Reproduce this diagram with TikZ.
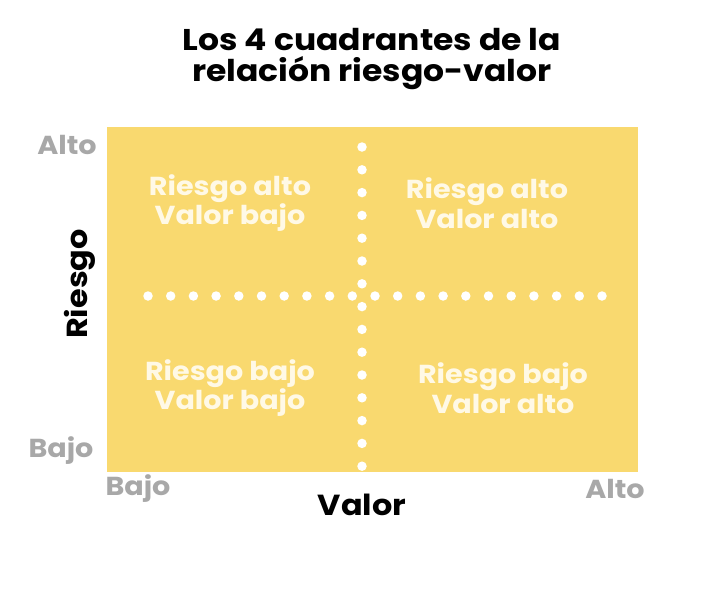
\documentclass[tikz,border=0pt]{standalone}
\usepackage{fontspec}
\setmainfont{Poppins}
\newfontfamily\widefont{Poppins}[FakeStretch=1.1]
\definecolor{quadyellow}{HTML}{F9D96F}
\definecolor{axisgray}{HTML}{A8A8A8}
\definecolor{quadtext}{HTML}{FFF9E6}
\begin{document}
\begin{tikzpicture}[x=1pt,y=-1pt,
  title/.style={font=\widefont\bfseries\fontsize{30}{30.5}\selectfont, align=center, text=black},
  quadlabel/.style={font=\widefont\bfseries\fontsize{26}{29.5}\selectfont, align=center, text=quadtext},
  ticklabel/.style={font=\widefont\bfseries\fontsize{26}{28}\selectfont, text=axisgray},
  axislabel/.style={font=\widefont\bfseries\fontsize{29}{31}\selectfont, text=black},
  dotmark/.style={circle, fill=white, inner sep=0pt, minimum size=9.5pt}]
\useasboundingbox[fill=white] (0,0) rectangle (712,589);
\fill[quadyellow] (107,127) rectangle (638,472);
\node[title] (t) at (372,59) {Los 4 cuadrantes de la\\relación riesgo-valor};
% dots
\foreach \i in {0,...,14} {\node[dotmark] (v\i) at (362,147+22.8*\i) {};}
\foreach \i in {0,...,20} {\node[dotmark] (h\i) at (148+22.7*\i,296) {};}
\node[quadlabel] (q1) at (230,203) {Riesgo alto\\Valor bajo};
\node[quadlabel] (q2) at (487,203) {Riesgo alto\\Valor alto};
\node[quadlabel] (q3) at (230,388) {Riesgo bajo\\Valor bajo};
\node[quadlabel] (q4) at (503,388) {Riesgo bajo\\Valor alto};
\node[ticklabel] (ya) at (67,145) {Alto};
\node[ticklabel] (yb) at (61,451) {Bajo};
\node[ticklabel] (xb) at (138,489) {Bajo};
\node[ticklabel] (xa) at (615,489) {Alto};
\node[axislabel, rotate=90] (ry) at (80,284) {Riesgo};
\node[axislabel] (vx) at (362,505) {Valor};
\end{tikzpicture}
\end{document}
